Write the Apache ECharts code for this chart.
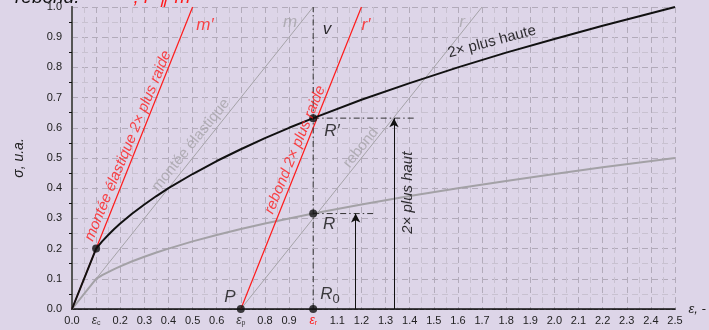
<!DOCTYPE html>
<html>
<head>
<meta charset="utf-8">
<script src="https://cdn.jsdelivr.net/npm/echarts@6/dist/echarts.min.js"></script>
<style>
  html, body { margin: 0; padding: 0; background: #ddd5e8; }
  #main { width: 709px; height: 330px; }
</style>
</head>
<body>
<div id="main"></div>
<script>
// strain values and the two hardening curves
const strain = [0, 0.1, 0.125, 0.15, 0.175, 0.2, 0.25, 0.3, 0.35, 0.4, 0.5, 0.6, 0.7, 0.8, 0.9, 1.0, 1.2, 1.4, 1.6, 1.8, 2.0, 2.2, 2.5];
const stressHigh = [0, 0.2, 0.224, 0.245, 0.265, 0.283, 0.316, 0.346, 0.374, 0.4, 0.447, 0.49, 0.529, 0.566, 0.6, 0.632, 0.693, 0.748, 0.8, 0.849, 0.894, 0.938, 1.0];
const stressLow = [0, 0.1, 0.112, 0.122, 0.132, 0.141, 0.158, 0.173, 0.187, 0.2, 0.224, 0.245, 0.265, 0.283, 0.3, 0.316, 0.346, 0.374, 0.4, 0.424, 0.447, 0.469, 0.5];

// straight loading / unloading lines
const lineM = [[0, 0], [1.0, 1.0]];
const lineMp = [[0, 0], [0.5, 1.0]];
const lineR = [[0.7, 0], [1.7, 1.0]];
const lineRp = [[0.7, 0], [1.2, 1.0]];

// guides and marked points
const lineV = [[1.0, 0], [1.0, 1.0]];
const guideR = [[1.0, 0.316], [1.25, 0.316]];
const guideRp = [[1.0, 0.632], [1.42, 0.632]];
const arrowR = [[1.176, 0], [1.176, 0.316]];
const arrowRp = [[1.335, 0], [1.335, 0.632]];
const points = [[0.1, 0.2], [0.7, 0], [1.0, 0], [1.0, 0.316], [1.0, 0.632]];

const xTickLabels = ['0.0', 'ec', '0.2', '0.3', '0.4', '0.5', '0.6', 'ep', '0.8', '0.9', 'er',
  '1.1', '1.2', '1.3', '1.4', '1.5', '1.6', '1.7', '1.8', '1.9', '2.0', '2.1', '2.2', '2.3', '2.4', '2.5'];

const FONT = '"Liberation Sans", Arial, sans-serif';
const RED = '#ff1a1a';
const GREY = '#a5a3a8';

const pairs = (xs, ys) => xs.map((x, i) => [x, ys[i]]);

function lbl(text, x, y, opts) {
  opts = opts || {};
  return {
    value: [x, y],
    label: {
      show: true,
      position: 'inside',
      formatter: text,
      rotate: opts.rotate || 0,
      color: opts.color || '#111',
      fontStyle: opts.italic === false ? 'normal' : 'italic',
      fontSize: opts.size || 17,
      fontFamily: FONT,
      align: 'center',
      verticalAlign: 'middle'
    }
  };
}

const annotations = [
  lbl('montée élastique 2× plus raide', 0.232, 0.54, { rotate: 67.5, color: RED, size: 15 }),
  lbl('montée élastique', 0.493, 0.543, { rotate: 51, color: GREY, size: 15, italic: false }),
  lbl('rebond 2× plus raide', 0.925, 0.527, { rotate: 67.5, color: RED, size: 15 }),
  lbl('rebond', 1.198, 0.534, { rotate: 51, color: GREY, size: 15, italic: false }),
  lbl('2× plus haute', 1.741, 0.885, { rotate: 15, color: '#000', size: 15, italic: false }),
  lbl('2× plus haut', 1.393, 0.385, { rotate: 90, color: '#000', size: 15 }),
  lbl('m′', 0.551, 0.941, { color: RED }),
  lbl('m', 0.904, 0.951, { color: GREY }),
  lbl('v', 1.057, 0.925, { color: '#000' }),
  lbl('r′', 1.219, 0.941, { color: RED }),
  lbl('r', 1.617, 0.951, { color: GREY }),
  lbl('R′', 1.078, 0.587),
  lbl('R', 1.066, 0.279),
  lbl('R{s|0}', 1.07, 0.048),
  lbl('P', 0.655, 0.038)
];
annotations[13].label.rich = { s: { fontSize: 13, fontFamily: FONT, fontStyle: 'normal', color: '#111', padding: [10, 0, 0, 0] } };

function lineSeries(data, color, width, type) {
  return {
    type: 'line', data: data, symbol: 'none', silent: true, animation: false,
    lineStyle: { color: color, width: width, type: type || 'solid' }
  };
}

function arrowSeries(seg) {
  return {
    type: 'line', data: [], silent: true, animation: false,
    markLine: {
      silent: true, animation: false,
      symbol: ['none', 'arrow'], symbolSize: [7, 9],
      label: { show: false },
      lineStyle: { color: '#111', width: 1, type: 'solid' },
      data: [[{ coord: seg[0] }, { coord: seg[1] }]]
    }
  };
}

const DASHDOT = [6, 3, 1.5, 3];

const myChart = echarts.init(document.getElementById('main'));

const option = {
  backgroundColor: '#ddd5e8',
  animation: false,
  grid: { left: 72, right: 34, top: 7, bottom: 21, containLabel: false },
  graphic: [
    { type: 'text', left: 15, top: -12, style: { text: 'rebond.', font: 'italic 19px ' + FONT, fill: '#111' } },
    { type: 'text', left: 130, top: -12, style: { text: '′, r′ ∥ m′', font: 'italic 19px ' + FONT, fill: RED } }
  ],
  xAxis: [
    {
      type: 'value', min: 0, max: 2.5, interval: 0.1, position: 'bottom',
      name: 'ε, -', nameLocation: 'end', nameGap: 10,
      nameTextStyle: { fontFamily: FONT, fontStyle: 'italic', fontSize: 13, color: '#222' },
      axisLine: { lineStyle: { color: '#111', width: 1.5 } },
      axisTick: { show: false },
      minorTick: { show: false, splitNumber: 2 },
      axisLabel: {
        margin: 6, fontSize: 11, fontFamily: FONT, color: '#222',
        formatter: function (v) {
          const t = xTickLabels[Math.round(v * 10)];
          if (t === 'ec') return '{e|ε}{s|c}';
          if (t === 'ep') return '{e|ε}{s|p}';
          if (t === 'er') return '{r|ε}{rs|r}';
          return t;
        },
        rich: {
          e: { fontSize: 12, fontFamily: FONT, fontStyle: 'italic', color: '#333' },
          s: { fontSize: 7, fontFamily: FONT, color: '#333', padding: [5, 0, 0, 0] },
          r: { fontSize: 12, fontFamily: FONT, fontStyle: 'italic', color: RED },
          rs: { fontSize: 7, fontFamily: FONT, color: RED, padding: [5, 0, 0, 0] }
        }
      },
      splitLine: { show: true, lineStyle: { color: '#b2abba', type: [6, 4], width: 1 } },
      minorSplitLine: { show: true, lineStyle: { color: '#c8c1d0', type: [6, 4], width: 1 } }
    },
    {
      type: 'value', min: 0, max: 2.5, position: 'top',
      axisLine: { show: true, lineStyle: { color: '#222', width: 1.2, type: [4, 2] } },
      axisTick: { show: false }, axisLabel: { show: false }, splitLine: { show: false }
    }
  ],
  yAxis: [
    {
      type: 'value', min: 0, max: 1, interval: 0.1, position: 'left',
      name: 'σ, u.a.', nameLocation: 'middle', nameGap: 46, nameRotate: 90,
      nameTextStyle: { fontFamily: FONT, fontStyle: 'italic', fontSize: 14, color: '#222' },
      axisLine: { show: true, lineStyle: { color: '#111', width: 1.5 } },
      axisTick: { show: false },
      minorTick: { show: true, splitNumber: 2, length: 3, lineStyle: { color: '#111' } },
      axisLabel: { margin: 10, fontSize: 11, fontFamily: FONT, color: '#222', formatter: v => v.toFixed(1) },
      splitLine: { show: true, lineStyle: { color: '#b2abba', type: [6, 4], width: 1 } },
      minorSplitLine: { show: true, lineStyle: { color: '#c8c1d0', type: [6, 4], width: 1 } }
    },
    {
      type: 'value', min: 0, max: 1, position: 'right',
      axisLine: { show: true, lineStyle: { color: '#555', width: 2 } },
      axisTick: { show: false }, axisLabel: { show: false }, splitLine: { show: false }
    }
  ],
  series: [
    lineSeries(lineM, GREY, 1),
    lineSeries(lineR, GREY, 1),
    lineSeries(pairs(strain, stressLow), '#a3a1a6', 2),
    lineSeries(lineMp, RED, 1.2),
    lineSeries(lineRp, RED, 1.2),
    lineSeries(lineV, '#333', 1, DASHDOT),
    lineSeries(guideR, '#333', 1, DASHDOT),
    lineSeries(guideRp, '#333', 1, DASHDOT),
    lineSeries(pairs(strain, stressHigh), '#111', 2),
    arrowSeries(arrowR),
    arrowSeries(arrowRp),
    {
      type: 'scatter', data: points, symbolSize: 8, silent: true, animation: false,
      itemStyle: { color: '#111' }, z: 5
    },
    {
      type: 'scatter', data: annotations, symbolSize: 0, silent: true, animation: false, z: 6
    }
  ]
};

myChart.setOption(option);
</script>
</body>
</html>
